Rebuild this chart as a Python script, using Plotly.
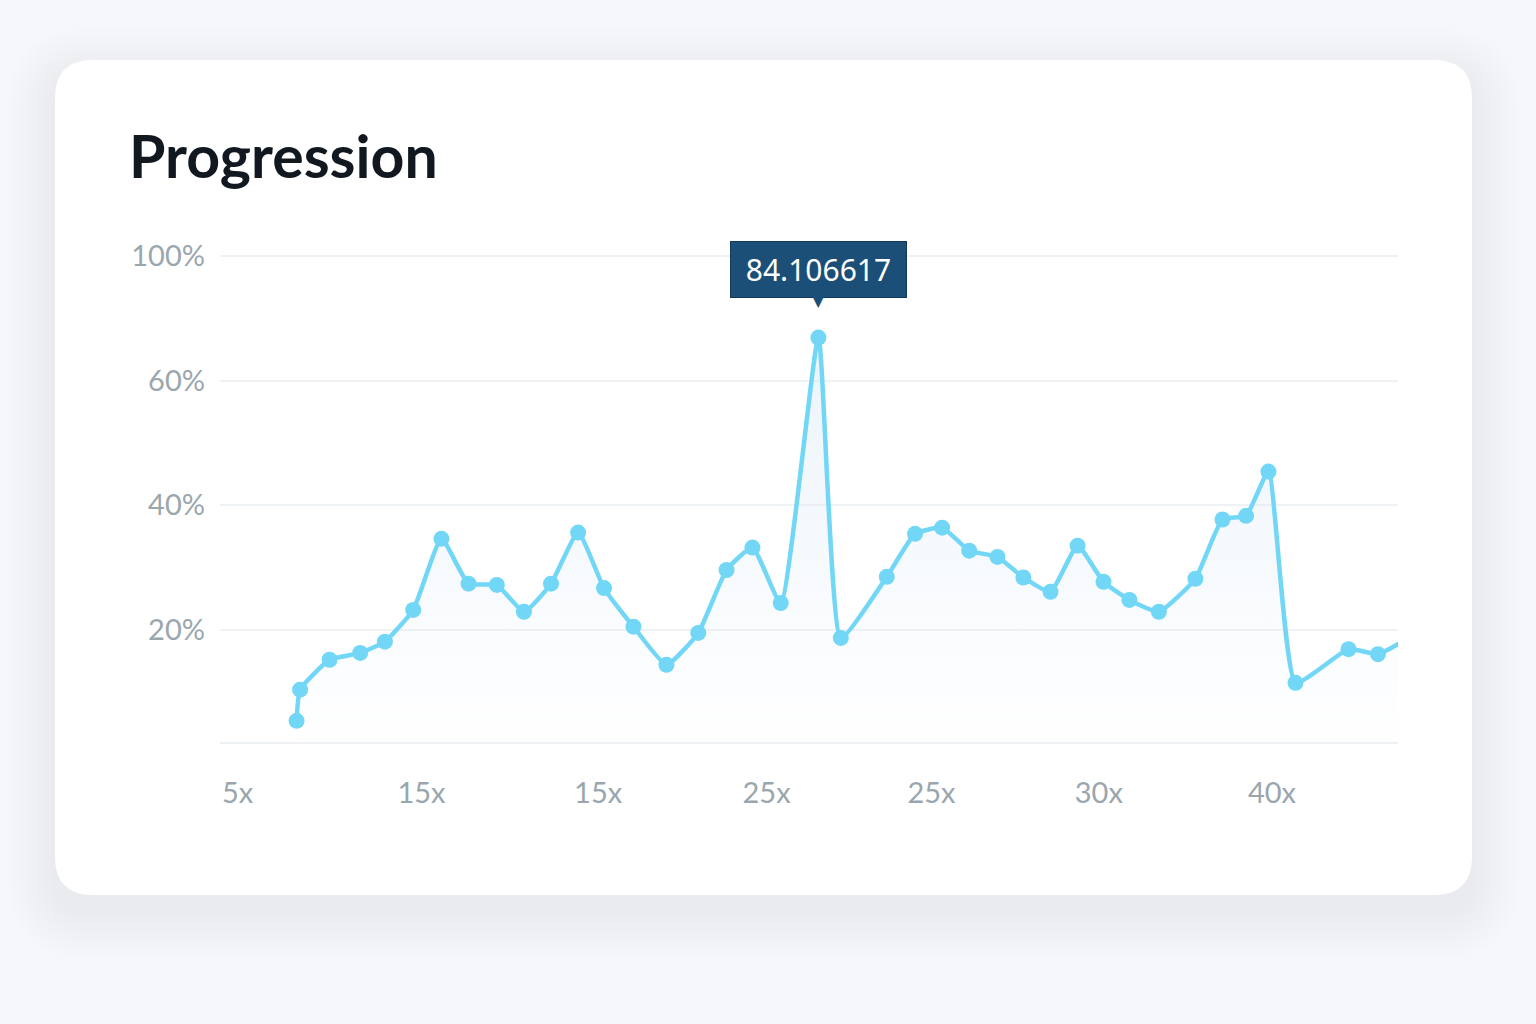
import plotly.graph_objects as go

# ---------------- data ----------------
x_vals = [6.5, 6.8, 9.3, 11.9, 14.0, 16.4, 18.8, 21.1, 23.5, 25.8, 28.1, 30.4, 32.6, 35.1,
          37.9, 40.6, 43.0, 45.2, 47.6, 50.8, 52.7, 56.6, 59.0, 61.3, 63.6, 66.0, 68.2, 70.5,
          72.8, 75.0, 77.2, 79.7, 82.8, 85.1, 87.1, 89.0, 91.3, 95.8, 98.3, 100.8]
y_vals = [5.4, 10.4, 15.2, 16.3, 18.1, 23.2, 34.6, 27.4, 27.2, 22.9, 27.4, 35.6, 26.7, 20.5,
          14.4, 19.5, 29.6, 33.2, 24.3, 66.9, 18.7, 28.5, 35.4, 36.4, 32.7, 31.7, 28.4, 26.1,
          33.5, 27.7, 24.8, 22.9, 28.2, 37.7, 38.3, 45.4, 11.5, 16.9, 16.1, 18.6]

x_tick_vals = [1.5, 17.1, 32.1, 46.4, 60.4, 74.6, 89.3]
x_tick_text = ["5x", "15x", "15x", "25x", "25x", "30x", "40x"]
y_tick_vals = [20, 40, 60, 80]
y_tick_text = ["20%", "40%", "60%", "100%"]

title_text = "Progression"
tooltip_text = "84.106617"

# ---------------- layout geometry ----------------
FIG_W, FIG_H = 1536, 1024
ML, MR, MT, MB = 220, 138, 231, 282
PW = FIG_W - ML - MR
PH = FIG_H - MT - MB


def px2paper(px, py):
    return (px - ML) / PW, (FIG_H - MB - py) / PH


def rounded_rect_path(x0, y0, x1, y1, r):
    def P(px, py):
        a, b = px2paper(px, py)
        return f"{a:.5f},{b:.5f}"
    return (
        f"M {P(x0 + r, y0)} L {P(x1 - r, y0)} Q {P(x1, y0)} {P(x1, y0 + r)} "
        f"L {P(x1, y1 - r)} Q {P(x1, y1)} {P(x1 - r, y1)} "
        f"L {P(x0 + r, y1)} Q {P(x0, y1)} {P(x0, y1 - r)} "
        f"L {P(x0, y0 + r)} Q {P(x0, y0)} {P(x0 + r, y0)} Z"
    )


shapes = []
# soft shadow layers
for i in range(12, 0, -1):
    g = i * 4
    shapes.append(dict(
        type="path", xref="paper", yref="paper", layer="below",
        path=rounded_rect_path(55 - g, 60 - g + 16, 1472 + g, 895 + g + 16, 38 + g),
        fillcolor="rgba(150,160,180,0.006)", line=dict(width=0)))
# card
shapes.append(dict(
    type="path", xref="paper", yref="paper", layer="below",
    path=rounded_rect_path(55, 60, 1472, 895, 38),
    fillcolor="#ffffff", line=dict(width=0)))

LINE_COLOR = "#72d7f7"

fig = go.Figure()
fig.add_trace(go.Scatter(
    x=x_vals, y=y_vals, mode="lines+markers",
    line=dict(color=LINE_COLOR, width=4.5, shape="spline", smoothing=0.45),
    marker=dict(color=LINE_COLOR, size=16),
    fill="tozeroy",
    fillgradient=dict(type="vertical",
                      colorscale=[[0, "rgba(215,230,245,0.0)"], [1, "rgba(215,230,245,0.45)"]]),
    hoverinfo="skip", showlegend=False,
))

peak_i = max(range(len(y_vals)), key=lambda i: y_vals[i])
annotations = [
    dict(text=f"<b>{title_text}</b>", xref="paper", yref="paper",
         x=px2paper(127, 0)[0], y=px2paper(0, 155)[1], xanchor="left", yanchor="middle",
         showarrow=False, font=dict(family="Lato", size=59, color="#111820")),
    dict(text=f"&nbsp;{tooltip_text}&nbsp;", x=x_vals[peak_i], y=y_vals[peak_i], xref="x", yref="y",
         showarrow=False, yanchor="bottom", yshift=40,
         font=dict(family="Noto Sans", size=30, color="#ffffff"),
         bgcolor="#1b4f77", bordercolor="#12385a", borderwidth=1, borderpad=7),
    dict(text="▼", x=x_vals[peak_i], y=y_vals[peak_i], xref="x", yref="y",
         showarrow=False, yanchor="bottom", yshift=26,
         font=dict(family="DejaVu Sans", size=16, color="#1b4f77")),
]

fig.update_layout(
    width=FIG_W, height=FIG_H,
    margin=dict(l=ML, r=MR, t=MT, b=MB, pad=0),
    paper_bgcolor="#f5f7fa", plot_bgcolor="rgba(0,0,0,0)",
    shapes=shapes, annotations=annotations,
    xaxis=dict(range=[0, 100], tickvals=x_tick_vals, ticktext=x_tick_text,
               showgrid=False, zeroline=False, showline=True, linecolor="#eef1f4", linewidth=2,
               ticks="", ticklabelstandoff=24,
               tickfont=dict(family="Lato", size=29, color="#9aa6ad")),
    yaxis=dict(range=[2, 84], tickvals=y_tick_vals, ticktext=y_tick_text,
               showgrid=True, gridcolor="#eff2f5", gridwidth=1.5, zeroline=False,
               ticks="", ticklabelstandoff=14,
               tickfont=dict(family="Lato", size=29, color="#9aa6ad")),
)

fig.write_html(
    "out.html",
    config={"displayModeBar": False},
    post_script="document.body.style.margin='0';document.body.style.background='#f5f7fa';",
)
